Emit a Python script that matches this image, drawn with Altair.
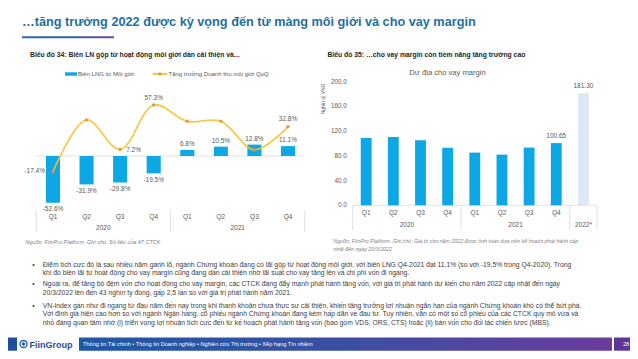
import altair as alt
import pandas as pd

OFF = 8
def px(v):
    return v - OFF

FONT = "Liberation Sans"

# ---------------- data ----------------
quarters = ["Q1", "Q2", "Q3", "Q4", "Q1", "Q2", "Q3", "Q4"]
years = ["2020", "2020", "2020", "2020", "2021", "2021", "2021", "2021"]
cats1 = [f"{q} {y}" for q, y in zip(quarters, years)]
margin_lng = [-52.6, -31.9, -29.8, -19.5, 6.8, 10.5, 12.8, 11.1]
rev_growth = [-17.4, 40.5, 7.2, 57.3, 39.0, 39.0, 7.0, 32.8]

cats2 = cats1 + ["2022*"]
quarters2 = quarters + [""]
margin_room = [109.0, 110.5, 105.3, 93.0, 85.3, 82.0, 93.4, 100.65, 181.30]
y_ticks2 = [0, 40, 80, 120, 160, 200]

year_labels = ["2020", "2021"]
year_anchor = ["Q3 2020", "Q3 2021"]

slide_title = "…tăng trưởng 2022 được kỳ vọng đến từ màng môi giới và cho vay margin"
title1 = "Biểu đồ 34: Biên LN gộp từ hoạt động môi giới dần cải thiện và..."
title2 = "Biểu đồ 35: …cho vay margin còn tiềm năng tăng trưởng cao"
legend1 = ["Biên LNG từ Môi giới", "Tăng trưởng Doanh thu môi giới QoQ"]
inner_title2 = "Dư địa cho vay margin"
ytitle2 = "Nghìn tỷ VNĐ"
source1 = "Nguồn: FiinPro Platform. Ghi chú: Số liệu của 47 CTCK"
source2 = ["Nguồn: FiinPro Platform. Ghi chú: Giá trị cho năm 2022 được tính toán dựa trên kế hoạch phát hành cập",
           "nhất đến ngày 20/3/2022"]
bullets = [
    ["Điểm tích cực đó là sau nhiều năm gánh lỗ, ngành Chứng khoán đang có lãi gộp từ hoạt động môi giới, với biên LNG Q4-2021 đạt 11,1% (so với -19,5% trong Q4-2020). Trong",
     "khi đó biên lãi từ hoạt động cho vay margin cũng đang dần cải thiện nhờ lãi suất cho vay tăng lên và chi phí vốn đi ngang."],
    ["Ngoài ra, để tăng bộ đệm vốn cho hoạt động cho vay margin, các CTCK đang đẩy mạnh phát hành tăng vốn, với giá trị phát hành dự kiến cho năm 2022 cập nhật đến ngày",
     "20/3/2022 lên đến 43 nghìn tỷ đồng, gấp 2,5 lần so với giá trị phát hành năm 2021."],
    ["VN-Index gần như đi ngang từ đầu năm đến nay trong khi thanh khoản chưa thực sự cải thiện, khiến tăng trưởng lợi nhuận ngắn hạn của ngành Chứng khoán khó có thể bứt phá.",
     "Với định giá hiện cao hơn so với ngành Ngân hàng, cổ phiếu ngành Chứng khoán đang kém hấp dẫn về đầu tư. Tuy nhiên, vẫn có một số cổ phiếu của các CTCK quy mô vừa và",
     "nhỏ đáng quan tâm nhờ (i) triển vọng lợi nhuận tích cực đến từ kế hoạch phát hành tăng vốn (bao gồm VDS, ORS, CTS) hoặc (ii) bán vốn cho đối tác chiến lược (MBS)."],
]
footer_text = "Thông tin Tài chính • Thông tin Doanh nghiệp • Nghiên cứu Thị trường • Xếp hạng Tín nhiệm"
page_no = "28"

# ---------------- styles ----------------
BLUE = "#0EA7E5"
LIGHT = "#DCE8F4"
YELLOW = "#F2C12E"
ORANGE = "#E8923A"
GRID = "#D9D9D9"
LAB = "#595959"
TXT = "#404040"

PCT = "(datum.{f} < 0 ? '-' : '') + format(abs(datum.{f}), '.1f') + '%'"

dummy = pd.DataFrame({"d": [0]})

def text_layer(s, x, y, size, color=TXT, bold=False, italic=False, align="left", angle=0, baseline="middle"):
    kw = dict(fontSize=size, color=color, align=align, baseline=baseline, font=FONT)
    if bold:
        kw["fontWeight"] = "bold"
    if italic:
        kw["fontStyle"] = "italic"
    if angle:
        kw["angle"] = angle
    return alt.Chart(dummy).mark_text(**kw).encode(
        x=alt.value(px(x)), y=alt.value(px(y)), text=alt.value(s))

def rect_layer(x0, x1, y0, y1, color):
    return alt.Chart(dummy).mark_rect(color=color).encode(
        x=alt.value(px(x0)), x2=alt.value(px(x1)), y=alt.value(px(y0)), y2=alt.value(px(y1)))

def rule_layer(x0, x1, y0, y1, color, w=0.8):
    return alt.Chart(dummy).mark_rule(color=color, strokeWidth=w).encode(
        x=alt.value(px(x0)), x2=alt.value(px(x1)), y=alt.value(px(y0)), y2=alt.value(px(y1)))

# ---------------- chart 1 ----------------
d1 = pd.DataFrame({"cat": cats1, "q": quarters, "lng": margin_lng, "growth": rev_growth})
x1s = alt.Scale(domain=cats1, range=[px(36.2), px(304.8)], paddingInner=0, paddingOuter=0)
y1s = alt.Scale(domain=[-60, 70], range=[px(209.4), px(93.7)], nice=False, zero=False)
X1 = alt.X("cat:N", scale=x1s, axis=None)

base1 = alt.Chart(d1)
zero1 = alt.Chart(dummy).mark_rule(color=GRID, strokeWidth=0.8).encode(
    x=alt.value(px(36.2)), x2=alt.value(px(304.8)), y=alt.Y(datum=0, scale=y1s, axis=None))
bars1 = base1.mark_bar(color=BLUE, width=alt.RelativeBandSize(0.42)).encode(
    x=X1, y=alt.Y("lng:Q", scale=y1s, axis=None))
lab_pos = base1.transform_filter("datum.lng >= 0").transform_calculate(
    lab=PCT.format(f="lng")).mark_text(
    fontSize=6.5, color=LAB, font=FONT, dy=-6).encode(
    x=X1, y=alt.Y("lng:Q", scale=y1s, axis=None), text="lab:N")
lab_neg = base1.transform_filter("datum.lng < 0").transform_calculate(
    lab=PCT.format(f="lng")).mark_text(
    fontSize=6.5, color=LAB, font=FONT, dy=6.5).encode(
    x=X1, y=alt.Y("lng:Q", scale=y1s, axis=None), text="lab:N")
line1 = base1.mark_line(color=YELLOW, strokeWidth=1.8, interpolate="catmull-rom", opacity=0.85).encode(
    x=X1, y=alt.Y("growth:Q", scale=y1s, axis=None))
pts1 = base1.mark_point(shape="diamond", filled=True, color=ORANGE, size=16, opacity=1).encode(
    x=X1, y=alt.Y("growth:Q", scale=y1s, axis=None))
glab = base1.transform_calculate(lab=PCT.format(f="growth"))
glab_left = glab.transform_filter("datum.cat == 'Q1 2020'").mark_text(
    fontSize=6.5, color=LAB, font=FONT, align="right", dx=-8).encode(
    x=X1, y=alt.Y("growth:Q", scale=y1s, axis=None), text="lab:N")
glab_right = glab.transform_filter("datum.cat == 'Q3 2020'").mark_text(
    fontSize=6.5, color=LAB, font=FONT, align="left", dx=6).encode(
    x=X1, y=alt.Y("growth:Q", scale=y1s, axis=None), text="lab:N")
glab_top = glab.transform_filter("datum.cat == 'Q4 2020' || datum.cat == 'Q4 2021'").mark_text(
    fontSize=6.5, color=LAB, font=FONT, dy=-7.5).encode(
    x=X1, y=alt.Y("growth:Q", scale=y1s, axis=None), text="lab:N")
qlab1 = base1.mark_text(fontSize=6.5, color=LAB, font=FONT).encode(
    x=X1, y=alt.value(px(216.7)), text="q:N")
dy1 = pd.DataFrame({"cat": year_anchor, "yl": year_labels})
ylab1 = alt.Chart(dy1).mark_text(fontSize=6.5, color=LAB, font=FONT).encode(
    x=alt.X("cat:N", scale=x1s, axis=None, bandPosition=0), y=alt.value(px(228.3)), text="yl:N")
sep1a = alt.Chart(pd.DataFrame({"cat": ["Q1 2020", "Q1 2021"]})).mark_rule(color=GRID, strokeWidth=0.8).encode(
    x=alt.X("cat:N", scale=x1s, axis=None, bandPosition=0), y=alt.value(px(210)), y2=alt.value(px(232)))
sep1b = alt.Chart(pd.DataFrame({"cat": ["Q4 2021"]})).mark_rule(color=GRID, strokeWidth=0.8).encode(
    x=alt.X("cat:N", scale=x1s, axis=None, bandPosition=1), y=alt.value(px(210)), y2=alt.value(px(232)))

chart1 = alt.layer(zero1, bars1, line1, pts1, lab_pos, lab_neg, glab_left, glab_right, glab_top,
                   qlab1, ylab1, sep1a, sep1b)

# ---------------- chart 2 ----------------
d2 = pd.DataFrame({"cat": cats2, "q": quarters2, "v": margin_room})
x2s = alt.Scale(domain=cats2, range=[px(352.6), px(597.0)], paddingInner=0, paddingOuter=0)
y2s = alt.Scale(domain=[0, 200], range=[px(205.3), px(81.7)], nice=False, zero=False)
X2 = alt.X("cat:N", scale=x2s, axis=None)
base2 = alt.Chart(d2)
bars2 = base2.mark_bar(width=alt.RelativeBandSize(0.4)).encode(
    x=X2, y=alt.Y("v:Q", scale=y2s, axis=None),
    color=alt.condition("datum.cat == '2022*'", alt.value(LIGHT), alt.value(BLUE)))
vlab2 = base2.transform_filter("datum.cat == 'Q4 2021' || datum.cat == '2022*'").transform_calculate(
    lab="format(datum.v, '.2f')").mark_text(fontSize=6.5, color=LAB, font=FONT, dy=-7).encode(
    x=X2, y=alt.Y("v:Q", scale=y2s, axis=None), text="lab:N")
base_line2 = alt.Chart(dummy).mark_rule(color=GRID, strokeWidth=0.8).encode(
    x=alt.value(px(352.6)), x2=alt.value(px(597.0)), y=alt.Y(datum=0, scale=y2s, axis=None))
yt = pd.DataFrame({"t": y_ticks2})
ytl2 = alt.Chart(yt).transform_calculate(lab="format(datum.t, '.1f')").mark_text(
    fontSize=6.3, color=LAB, font=FONT, align="right").encode(
    x=alt.value(px(346.7)), y=alt.Y("t:Q", scale=y2s, axis=None), text="lab:N")
qlab2 = base2.mark_text(fontSize=6.5, color=LAB, font=FONT).encode(
    x=X2, y=alt.value(px(212.7)), text="q:N")
ylab2a = alt.Chart(dy1).mark_text(fontSize=6.5, color=LAB, font=FONT).encode(
    x=alt.X("cat:N", scale=x2s, axis=None, bandPosition=0), y=alt.value(px(225)), text="yl:N")
ylab2b = alt.Chart(pd.DataFrame({"cat": ["2022*"]})).mark_text(fontSize=6.5, color=LAB, font=FONT).encode(
    x=alt.X("cat:N", scale=x2s, axis=None, bandPosition=0.5), y=alt.value(px(225)), text="cat:N")
sep2a = alt.Chart(pd.DataFrame({"cat": ["Q1 2020", "Q1 2021", "2022*"]})).mark_rule(color=GRID, strokeWidth=0.8).encode(
    x=alt.X("cat:N", scale=x2s, axis=None, bandPosition=0), y=alt.value(px(205.3)), y2=alt.value(px(230)))
sep2b = alt.Chart(pd.DataFrame({"cat": ["2022*"]})).mark_rule(color=GRID, strokeWidth=0.8).encode(
    x=alt.X("cat:N", scale=x2s, axis=None, bandPosition=1), y=alt.value(px(205.3)), y2=alt.value(px(230)))

chart2 = alt.layer(base_line2, bars2, vlab2, ytl2, qlab2, ylab2a, ylab2b, sep2a, sep2b)

# ---------------- decorations ----------------
title_grad = alt.LinearGradient(gradient="linear", x1=0, x2=1, y1=0, y2=0,
                                stops=[alt.GradientStop(color="#1F6FAE", offset=0),
                                       alt.GradientStop(color="#2F5FA8", offset=0.55),
                                       alt.GradientStop(color="#7A3FA6", offset=1)])
foot_grad = alt.LinearGradient(gradient="linear", x1=0, x2=1, y1=0, y2=0,
                               stops=[alt.GradientStop(color="#1D58A6", offset=0),
                                      alt.GradientStop(color="#3B4FA2", offset=0.5),
                                      alt.GradientStop(color="#6A3C9C", offset=1)])

decos = [
    text_layer(slide_title, 22, 22, 12.7, color="#1F6FA0", bold=True),
    alt.Chart(dummy).mark_rect(color=title_grad).encode(
        x=alt.value(px(22)), x2=alt.value(px(114)), y=alt.value(px(36.3)), y2=alt.value(px(38.3))),
    text_layer(title1, 30, 55, 6.8, color="#262626", bold=True),
    text_layer(title2, 327.5, 55, 6.8, color="#262626", bold=True),
    # legend chart 1
    rect_layer(65, 77, 72.3, 75.7, BLUE),
    text_layer(legend1[0], 78, 74, 6, color=LAB),
    rule_layer(152.7, 167.3, 74, 74, YELLOW, w=1.8),
    alt.Chart(dummy).mark_point(shape="diamond", filled=True, color=ORANGE, size=16, opacity=1).encode(
        x=alt.value(px(160)), y=alt.value(px(74))),
    text_layer(legend1[1], 168.5, 74, 6, color=LAB),
    # chart 2 texts
    text_layer(inner_title2, 447.5, 72.7, 7.6, color=LAB, align="center"),
    text_layer(ytitle2, 323, 99, 5, color=LAB, align="center", angle=270),
    text_layer(source1, 25.3, 241.7, 5.5, color="#7F7F7F", italic=True),
    text_layer(source2[0], 333.3, 241, 5.3, color="#7F7F7F", italic=True),
    text_layer(source2[1], 333.3, 248.7, 5.3, color="#7F7F7F", italic=True),
]

line_y = [[265, 273.3], [284.3, 292.7], [306, 314.3, 322.7]]
for b, ys in zip(bullets, line_y):
    decos.append(text_layer("•", 33.5, ys[0], 7, color=TXT, align="center"))
    for s, yy in zip(b, ys):
        decos.append(text_layer(s, 42.7, yy, 6.8, color=TXT))

# footer
decos += [
    rect_layer(0, 17, 337.5, 350.7, "#1D4E9B"),
    alt.Chart(dummy).mark_point(shape="circle", filled=True, color="#1D5CA8", size=70, opacity=1).encode(
        x=alt.value(px(23.5)), y=alt.value(px(344))),
    alt.Chart(dummy).mark_point(shape="circle", filled=False, color="white", size=20, strokeWidth=1.2, opacity=1).encode(
        x=alt.value(px(23.5)), y=alt.value(px(344))),
    text_layer("FiinGroup", 29.5, 344.5, 9, color="#1D4E9B", bold=True),
    alt.Chart(dummy).mark_rect(color=foot_grad).encode(
        x=alt.value(px(79)), x2=alt.value(px(612)), y=alt.value(px(337.5)), y2=alt.value(px(350.7))),
    text_layer(footer_text, 83, 344.2, 5.6, color="white"),
    rect_layer(614, 638, 337.5, 350.7, "#5E3495"),
    text_layer(page_no, 626, 344.2, 5.5, color="white", align="center"),
]

chart = alt.layer(chart1, chart2, *decos).resolve_scale(
    x="independent", y="independent"
).properties(
    width=622, height=343, autosize=alt.AutoSizeParams(type="none"), padding=0
).configure_view(stroke=None).configure_axis(disable=True)

chart.save("out.html", embed_options={"renderer": "svg", "actions": False})
